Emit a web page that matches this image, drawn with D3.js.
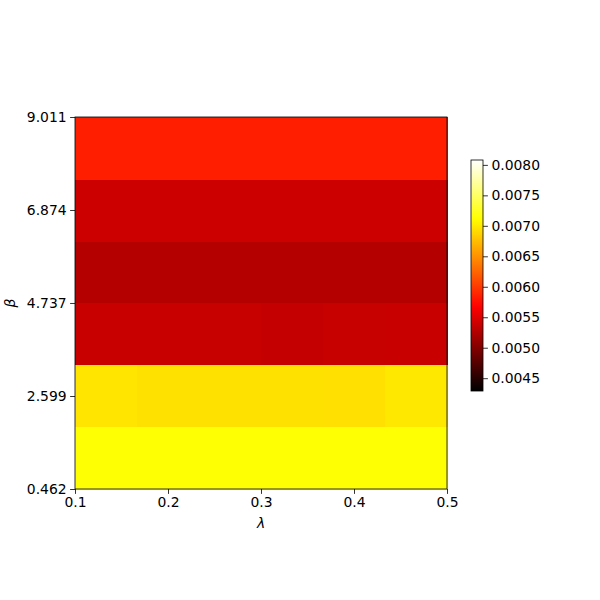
<!DOCTYPE html>
<html><head><meta charset="utf-8">
<script src="https://cdn.jsdelivr.net/npm/d3@7"></script>
<style>body{margin:0;background:#fff;} text{font-family:"DejaVu Sans",sans-serif;}</style>
</head><body><svg id="c" width="600" height="600"></svg>
<script>
// lambda (x) cell edges and beta (y) cell edges
const lambdaEdges = [0.1, 0.16667, 0.23333, 0.3, 0.36667, 0.43333, 0.5];
const betaEdges = [0.462, 1.887, 3.312, 4.737, 6.161, 7.586, 9.011];
const xTicks = [0.1, 0.2, 0.3, 0.4, 0.5];
const yTicks = [0.462, 2.599, 4.737, 6.874, 9.011];
const cbTicks = [0.0045, 0.0050, 0.0055, 0.0060, 0.0065, 0.0070, 0.0075, 0.0080];
const colorDomain = [0.00429, 0.00808];
// values[row][col], row 0 = lowest beta
const values = [
  [0.00713, 0.00713, 0.00713, 0.00713, 0.00713, 0.00713],
  [0.00697, 0.00695, 0.00695, 0.00695, 0.00694, 0.00699],
  [0.00538, 0.00538, 0.00537, 0.00536, 0.00537, 0.00538],
  [0.00527, 0.00527, 0.00527, 0.00527, 0.00527, 0.00527],
  [0.00540, 0.00540, 0.00540, 0.00540, 0.00540, 0.00540],
  [0.00585, 0.00585, 0.00585, 0.00585, 0.00585, 0.00585]
];

function hot(t){
  t = Math.max(0, Math.min(1, t));
  const r = Math.min(1, t/0.365079);
  const g = Math.max(0, Math.min(1, (t-0.365079)/(0.746032-0.365079)));
  const b = Math.max(0, Math.min(1, (t-0.746032)/(1-0.746032)));
  return d3.rgb(r*255, g*255, b*255).formatHex();
}

const svg = d3.select("#c");
const L=75, R=447, T=117, B=489;
const x = d3.scaleLinear().domain([0.1,0.5]).range([L,R]);
const y = d3.scaleLinear().domain([0.462,9.011]).range([B,T]);
const color = d3.scaleSequential(hot).domain(colorDomain);

const cells = [];
values.forEach((row,i)=>row.forEach((v,j)=>cells.push({i,j,v})));
svg.append("g").selectAll("rect").data(cells).join("rect")
  .attr("x", d=>x(lambdaEdges[d.j]))
  .attr("y", d=>y(betaEdges[d.i+1]))
  .attr("width", d=>x(lambdaEdges[d.j+1])-x(lambdaEdges[d.j])+0.5)
  .attr("height", d=>y(betaEdges[d.i])-y(betaEdges[d.i+1])+0.5)
  .attr("fill", d=>color(d.v))
  .attr("shape-rendering","crispEdges");

svg.append("rect").attr("x",L).attr("y",T).attr("width",R-L).attr("height",B-T)
  .attr("fill","none").attr("stroke","#000").attr("stroke-width",0.8);

const fs = "13.9px";
const xa = svg.append("g").attr("transform",`translate(0,${B})`)
  .call(d3.axisBottom(x).tickValues(xTicks).tickFormat(d3.format(".1f")).tickSize(4.9).tickPadding(3.5));
const ya = svg.append("g").attr("transform",`translate(${L},0)`)
  .call(d3.axisLeft(y).tickValues(yTicks).tickFormat(d=>d.toFixed(3)).tickSize(4.9).tickPadding(3.5));
[xa,ya].forEach(a=>{
  a.select(".domain").remove();
  a.selectAll(".tick line").attr("stroke","#000").attr("stroke-width",0.8);
  a.selectAll(".tick text").attr("fill","#000").style("font-size",fs).style("font-family","DejaVu Sans");
});

svg.append("text").attr("x",(L+R)/2).attr("y",528).attr("text-anchor","middle")
  .style("font-size",fs).style("font-style","italic").text("λ");
svg.append("text").attr("transform",`translate(15,${(T+B)/2}) rotate(-90)`).attr("text-anchor","middle")
  .style("font-size",fs).style("font-style","italic").text("β");

// colorbar
const cbL=471, cbR=483, cbT=160, cbB=391;
const cy = d3.scaleLinear().domain(colorDomain).range([cbB,cbT]);
const defs = svg.append("defs");
const grad = defs.append("linearGradient").attr("id","g").attr("x1",0).attr("y1",1).attr("x2",0).attr("y2",0);
d3.range(0,1.0001,0.02).forEach(t=>grad.append("stop").attr("offset",t).attr("stop-color",hot(t)));
svg.append("rect").attr("x",cbL).attr("y",cbT).attr("width",cbR-cbL).attr("height",cbB-cbT)
  .attr("fill","url(#g)").attr("stroke","#000").attr("stroke-width",0.8);
const ca = svg.append("g").attr("transform",`translate(${cbR},0)`)
  .call(d3.axisRight(cy).tickValues(cbTicks).tickFormat(d3.format(".4f")).tickSize(4.9).tickPadding(3.5));
ca.select(".domain").remove();
ca.selectAll(".tick line").attr("stroke","#000").attr("stroke-width",0.8);
ca.selectAll(".tick text").attr("fill","#000").style("font-size",fs).style("font-family","DejaVu Sans");
</script></body></html>
